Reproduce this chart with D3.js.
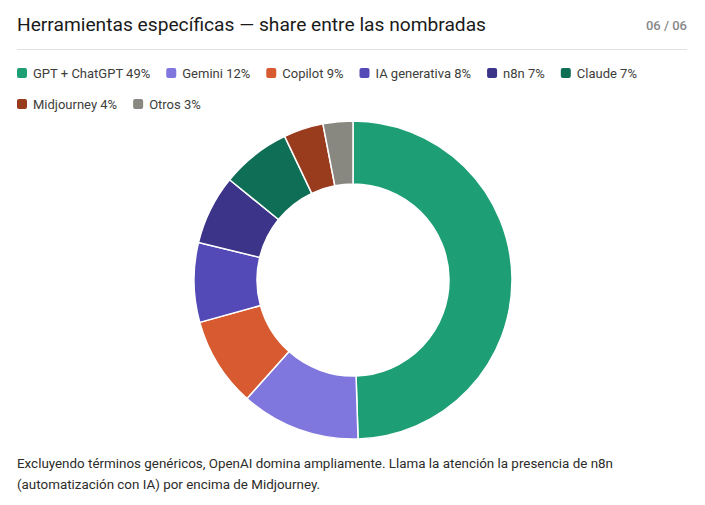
<!DOCTYPE html>
<html>
<head>
<meta charset="utf-8">
<script src="https://cdn.jsdelivr.net/npm/d3@7"></script>
<style>
  html, body { margin: 0; padding: 0; background: #fff; }
  svg { display: block; font-family: Roboto, "Noto Sans", sans-serif; }
</style>
</head>
<body>
<div id="chart"></div>
<script>
const TITLE = "Herramientas específicas — share entre las nombradas";
const PAGE = "06 / 06";
const LABELS = ["GPT + ChatGPT", "Gemini", "Copilot", "IA generativa", "n8n", "Claude", "Midjourney", "Otros"];
const VALUES = [49, 12, 9, 8, 7, 7, 4, 3];
const COLORS = ["#1D9E75", "#7F77DD", "#D85A30", "#534AB7", "#3C3489", "#0F6E56", "#993C1D", "#888780"];
const NOTE = [
    "Excluyendo términos genéricos, OpenAI domina ampliamente. Llama la atención la presencia de n8n",
    "(automatización con IA) por encima de Midjourney."
];

const width = 705, height = 505;
const left = 17, right = 687;

const svg = d3.select("#chart").append("svg")
    .attr("width", width)
    .attr("height", height);

svg.append("text")
    .attr("x", left)
    .attr("y", 31)
    .style("font-size", "19.2px")
    .style("fill", "#1a1a1a")
    .text(TITLE);

svg.append("text")
    .attr("x", right)
    .attr("y", 30)
    .attr("text-anchor", "end")
    .style("font-size", "13px")
    .style("font-weight", 500)
    .style("fill", "#888")
    .text(PAGE);

svg.append("line")
    .attr("x1", left).attr("x2", right)
    .attr("y1", 49.5).attr("y2", 49.5)
    .attr("stroke", "#e2e2e2");

// legend, flows left to right and wraps
const data = LABELS.map((l, i) => ({ label: l, value: VALUES[i], color: COLORS[i] }));
const legend = svg.append("g");
let lx = left, ly = 73;
data.forEach(d => {
    const g = legend.append("g");
    g.append("rect")
        .attr("x", 0).attr("y", -5)
        .attr("width", 10).attr("height", 10)
        .attr("rx", 2)
        .attr("fill", d.color);
    const t = g.append("text")
        .attr("x", 16).attr("y", 4.5)
        .style("font-size", "13px")
        .style("fill", "#3d3d3a")
        .text(`${d.label} ${d.value}%`);
    const w = 16 + t.node().getComputedTextLength();
    if (lx + w > right && lx > left) { lx = left; ly += 31; }
    g.attr("transform", `translate(${lx},${ly})`);
    lx += w + 16;
});

// donut
const cx = 353, cy = 280, outerR = 159, innerR = 96;
const pie = d3.pie().value(d => d.value).sort(null);
const arc = d3.arc().innerRadius(innerR).outerRadius(outerR);

svg.append("g")
    .attr("transform", `translate(${cx},${cy})`)
    .selectAll("path")
    .data(pie(data))
    .join("path")
    .attr("d", arc)
    .attr("fill", d => d.data.color)
    .attr("stroke", "#fff")
    .attr("stroke-width", 1.5);

svg.append("g")
    .selectAll("text")
    .data(NOTE)
    .join("text")
    .attr("x", left)
    .attr("y", (d, i) => 468 + i * 21)
    .style("font-size", "13.4px")
    .style("fill", "#2c2c2a")
    .text(d => d);
</script>
</body>
</html>
